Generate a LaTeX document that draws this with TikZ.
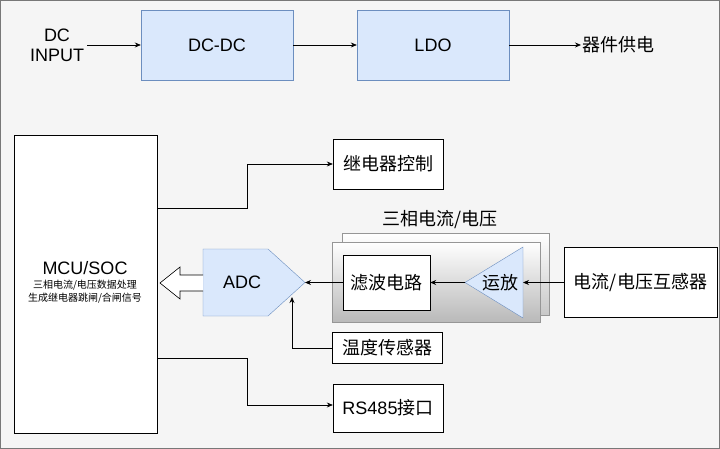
\documentclass[tikz,border=0pt]{standalone}
\usepackage{fontspec}
\setmainfont{Liberation Sans}
\newfontfamily\cjk{Noto Sans CJK SC}
\usetikzlibrary{arrows.meta}
\definecolor{bfill}{HTML}{DAE8FC}
\definecolor{bline}{HTML}{6C8EBF}
\begin{document}
\begin{tikzpicture}[x=1pt,y=-1pt,
  box/.style={draw=black,fill=white,minimum height=30pt,inner sep=3pt,font=\fontsize{18}{20}\selectfont\cjk},
  blue/.style={draw=bline,fill=bfill,minimum width=152pt,minimum height=70pt,font=\fontsize{18}{20}\selectfont},
  arr/.style={-{Stealth[length=6pt,width=5pt]},black,line width=0.7pt}]
\fill[fill={rgb,255:red,245;green,245;blue,245},draw={rgb,255:red,120;green,120;blue,120}] (0.5,0.5) rectangle (719.5,448.5);
\useasboundingbox (0,0) rectangle (720,449);
% power chain
\node[align=center,font=\fontsize{18}{20}\selectfont] (din) at (57,45) {DC\\INPUT};
\node[blue] (dcdc) at (217,45) {DC-DC};
\node[blue] (ldo) at (433,45) {LDO};
\node[font=\fontsize{18}{20}\selectfont\cjk,anchor=west,inner sep=1pt] (pw) at (581,45) {器件供电};
\draw[arr] (87,45) -- (dcdc.west);
\draw[arr] (dcdc.east) -- (ldo.west);
\draw[arr] (ldo.east) -- (pw.west);
% MCU
\node[draw,fill=white,minimum width=143pt,minimum height=298pt] (mcu) at (85.5,284) {};
\node[font=\fontsize{18}{20}\selectfont] (mcut) at (85,268) {MCU/SOC};
\node[font=\fontsize{10}{13}\selectfont\cjk,align=center] (mcus) at (85,292) {三相电流/电压数据处理\\生成继电器跳闸/合闸信号};
% relay and RS485
\node[box,minimum width=110pt,minimum height=50pt] (relay) at (388,164) {继电器控制};
\node[box,minimum width=110pt,minimum height=48pt] (rs) at (388,408) {\fontspec{Liberation Sans}RS485\cjk 接口};
\coordinate (m1) at (157,208);
\coordinate (m2) at (157,358);
\draw[arr] (m1) -| (247,164) -- (relay.west);
\draw[arr] (m2) -| (247,405) -- (rs.west |- 0,405);
% stacked group
\node[font=\fontsize{18}{20}\selectfont\cjk] (grp) at (440,220) {三相电流/电压};
\node[draw={rgb,255:red,150;green,150;blue,150},top color=white,bottom color={rgb,255:red,200;green,200;blue,200},minimum width=207pt,minimum height=82pt] (back) at (445.5,274) {};
\node[draw={rgb,255:red,150;green,150;blue,150},top color=white,bottom color={rgb,255:red,185;green,185;blue,185},minimum width=208pt,minimum height=80pt] (front) at (436,282) {};
\node[box,minimum width=87pt,minimum height=55pt] (filt) at (386.5,282.5) {滤波电路};
\draw[bline,fill=bfill] (523,247) -- (523,318) -- (465,282.5) -- cycle;
\coordinate (opin) at (523,282.5);
\coordinate (opout) at (465,282.5);
\node[font=\fontsize{18}{20}\selectfont\cjk] (optext) at (500,282.5) {运放};
\node[box,minimum width=153pt,minimum height=70pt] (ct) at (640.5,282.5) {电流/电压互感器};
% ADC
\draw[bline,fill=bfill] (203,249) -- (268,249) -- (305,282.5) -- (268,316) -- (203,316) -- cycle;
\coordinate (adcout) at (305,282.5);
\coordinate (adcin) at (292,297);
\node[font=\fontsize{18}{20}\selectfont] (adct) at (242,282.5) {ADC};
\node[box,minimum width=110pt,minimum height=31pt] (temp) at (387,348) {温度传感器};
% arrows
\draw[arr] (ct.west) -- (opin);
\draw[arr] (opout) -- (filt.east);
\draw[arr] (filt.west) -- (adcout);
\draw[arr] (temp.west) -| (adcin);
% hollow block arrow ADC -> MCU
\draw[black,fill=white,line width=0.6pt] (203,275) -- (180,275) -- (180,267) -- (160,283) -- (180,299) -- (180,291) -- (203,291);
\end{tikzpicture}
\end{document}
